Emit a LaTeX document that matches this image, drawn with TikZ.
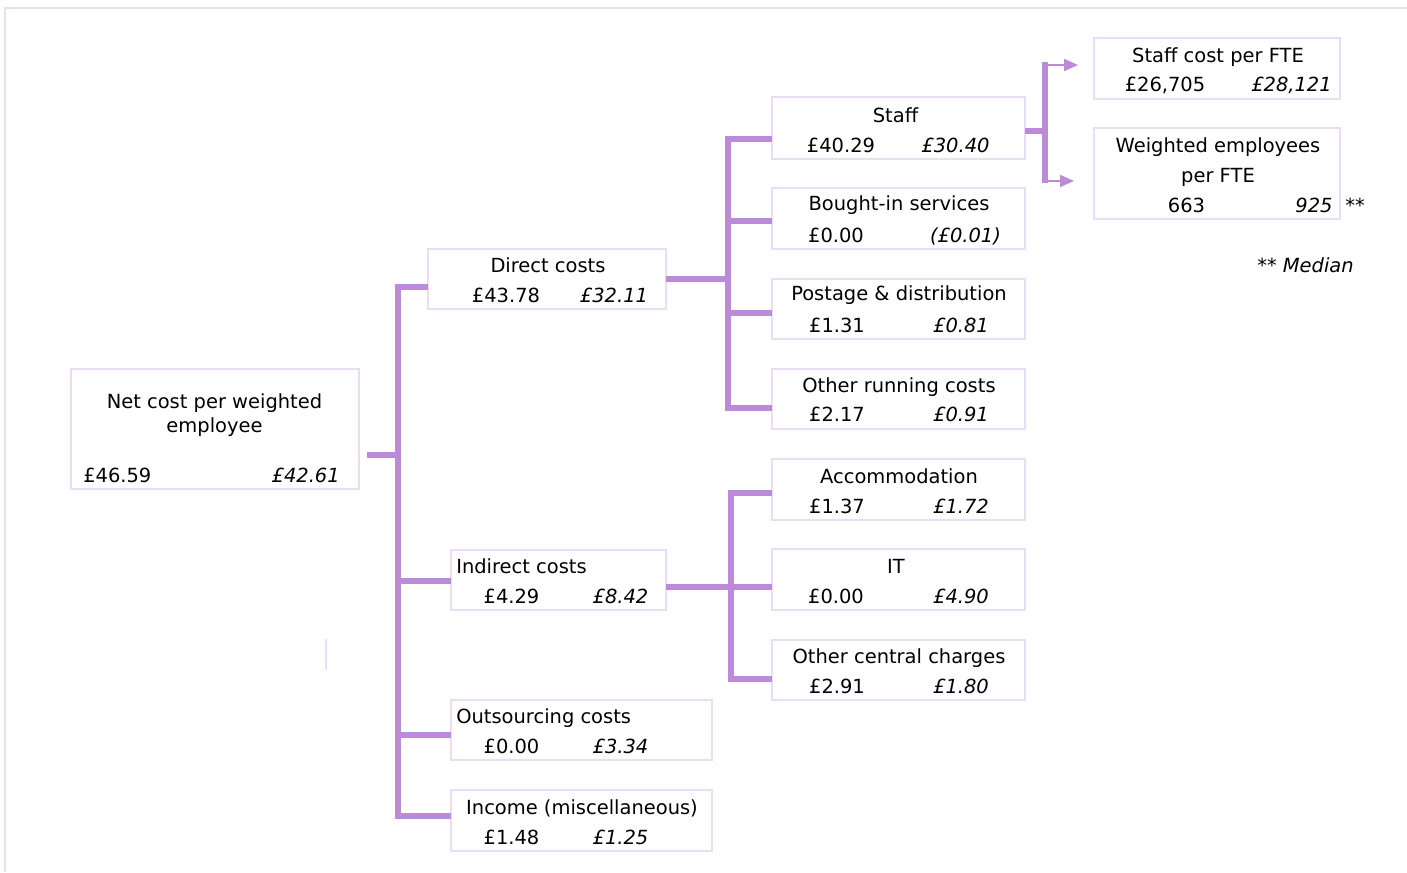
\documentclass[tikz,border=0pt]{standalone}
\usepackage{fontspec}
\setmainfont{DejaVu Sans}
\usetikzlibrary{fit,arrows.meta}
\definecolor{boxc}{HTML}{EBDDF3}
\definecolor{conc}{HTML}{BB8AD9}
\begin{document}
\begin{tikzpicture}[x=0.75pt,y=-0.75pt,
  box/.style={draw=boxc,line width=1.5pt,inner sep=0pt},
  conn/.style={draw=conc,line width=4.5pt,line join=miter},
  thin/.style={draw=conc,line width=1.5pt,-{Triangle[length=10.5pt,width=9pt]}},
  frame/.style={draw=boxc,line width=1.5pt},
  lbl/.style={inner sep=0pt,anchor=base,font=\fontsize{14.6}{17}\selectfont},
  lblw/.style={lbl,anchor=base west},
  val/.style={lbl,font=\fontsize{14.6}{17}\selectfont\itshape}]
\useasboundingbox (0,0) rectangle (1407,872);
% frame
\coordinate (fa) at (5,8); \coordinate (fb) at (1407,8); \coordinate (fc) at (5,872);
\draw[frame] (fb) -- (fa) -- (fc);
\coordinate (sa) at (326,639); \coordinate (sb) at (326,670);
\draw[frame] (sa) -- (sb);
% boxes
\node[box, fit={(71,369) (359,489)}] (net) {};
\node[box, fit={(428,249) (666,309)}] (direct) {};
\node[box, fit={(451,550) (666,610)}] (indirect) {};
\node[box, fit={(451,700) (712,760)}] (outs) {};
\node[box, fit={(451,790) (712,851)}] (income) {};
\node[box, fit={(772,97) (1025,159)}] (staff) {};
\node[box, fit={(772,188) (1025,249)}] (bought) {};
\node[box, fit={(772,279) (1025,339)}] (postage) {};
\node[box, fit={(772,369) (1025,429)}] (running) {};
\node[box, fit={(772,459) (1025,520)}] (accom) {};
\node[box, fit={(772,549) (1025,610)}] (it) {};
\node[box, fit={(772,640) (1025,700)}] (central) {};
\node[box, fit={(1094,38) (1340,99)}] (sfte) {};
\node[box, fit={(1094,128) (1340,219)}] (wfte) {};
% texts
\node[lbl] (t1) at (214.5,408) {Net cost per weighted};
\node[lbl] (t2) at (214.5,432) {employee};
\node[lblw] (t3) at (83,482) {£46.59};
\node[val,anchor=base east] (t4) at (340,482) {£42.61};
\node[lbl] (t5) at (548,272) {Direct costs};
\node[lbl] (t6) at (506,302) {£43.78};
\node[val] (t7) at (614,302) {£32.11};
\node[lblw] (t8) at (456,573) {Indirect costs};
\node[lbl] (t9) at (511.5,603) {£4.29};
\node[val] (t10) at (620.5,603) {£8.42};
\node[lblw] (t11) at (456,723) {Outsourcing costs};
\node[lbl] (t12) at (511.5,753) {£0.00};
\node[val] (t13) at (620.5,753) {£3.34};
\node[lbl] (t14) at (582,814) {Income (miscellaneous)};
\node[lbl] (t15) at (511.5,844) {£1.48};
\node[val] (t16) at (620.5,844) {£1.25};
\node[lbl] (t17) at (895.5,122) {Staff};
\node[lbl] (t18) at (841,152) {£40.29};
\node[val] (t19) at (955.5,152) {£30.40};
\node[lbl] (t20) at (899,210) {Bought-in services};
\node[lbl] (t21) at (836,242) {£0.00};
\node[val] (t22) at (965.5,242) {(£0.01)};
\node[lbl] (t23) at (899,300) {Postage \& distribution};
\node[lbl] (t24) at (837,332) {£1.31};
\node[val] (t25) at (961,332) {£0.81};
\node[lbl] (t26) at (899,392) {Other running costs};
\node[lbl] (t27) at (837,421) {£2.17};
\node[val] (t28) at (961,421) {£0.91};
\node[lbl] (t29) at (899,483) {Accommodation};
\node[lbl] (t30) at (837,513) {£1.37};
\node[val] (t31) at (961,513) {£1.72};
\node[lbl] (t32) at (896,573) {IT};
\node[lbl] (t33) at (836,603) {£0.00};
\node[val] (t34) at (961,603) {£4.90};
\node[lbl] (t35) at (899,663) {Other central charges};
\node[lbl] (t36) at (837,693) {£2.91};
\node[val] (t37) at (961,693) {£1.80};
\node[lbl] (t38) at (1218,62) {Staff cost per FTE};
\node[lbl] (t39) at (1165,91) {£26,705};
\node[val] (t40) at (1291.5,91) {£28,121};
\node[lbl] (t41) at (1218,152) {Weighted employees};
\node[lbl] (t42) at (1218,182) {per FTE};
\node[lbl] (t43) at (1186.5,212) {663};
\node[val] (t44) at (1314,212) {925};
\node[lblw] (t45) at (1345,212) {**};
\node[lblw] (t46) at (1257,272) {** \itshape Median};
% left tree
\coordinate (a0) at (367,455); \coordinate (a1) at (398,455);
\coordinate (a2) at (428,287); \coordinate (a3) at (398,816); \coordinate (a4) at (451,816);
\coordinate (a5) at (398,581); \coordinate (a6) at (451,581);
\coordinate (a7) at (398,735); \coordinate (a8) at (451,735);
\draw[conn] (a2) -| (a3) -- (a4);
\draw[conn] (a0) -- (a1);
\draw[conn] (a5) -- (a6);
\draw[conn] (a7) -- (a8);
% direct tree
\coordinate (b0) at (666,279); \coordinate (b1) at (728,279);
\coordinate (b2) at (772,139); \coordinate (b3) at (728,408); \coordinate (b4) at (772,408);
\coordinate (b5) at (728,221); \coordinate (b6) at (772,221);
\coordinate (b7) at (728,313); \coordinate (b8) at (772,313);
\draw[conn] (b2) -| (b3) -- (b4);
\draw[conn] (b0) -- (b1);
\draw[conn] (b5) -- (b6);
\draw[conn] (b7) -- (b8);
% indirect tree
\coordinate (c0) at (666,587); \coordinate (c1) at (772,587);
\coordinate (c2) at (772,493); \coordinate (c3) at (731,679); \coordinate (c4) at (772,679);
\draw[conn] (c2) -| (c3) -- (c4);
\draw[conn] (c0) -- (c1);
% staff arrows
\coordinate (d0) at (1025,131); \coordinate (d1) at (1045,131);
\coordinate (d2) at (1045,62); \coordinate (d3) at (1045,183);
\coordinate (d4) at (1044,65); \coordinate (d5) at (1078,65);
\coordinate (d6) at (1044,181); \coordinate (d7) at (1074,181);
\draw[conn] (d0) -- (d1);
\draw[conn] (d2) -- (d3);
\draw[thin] (d4) -- (d5);
\draw[thin] (d6) -- (d7);
\end{tikzpicture}
\end{document}
